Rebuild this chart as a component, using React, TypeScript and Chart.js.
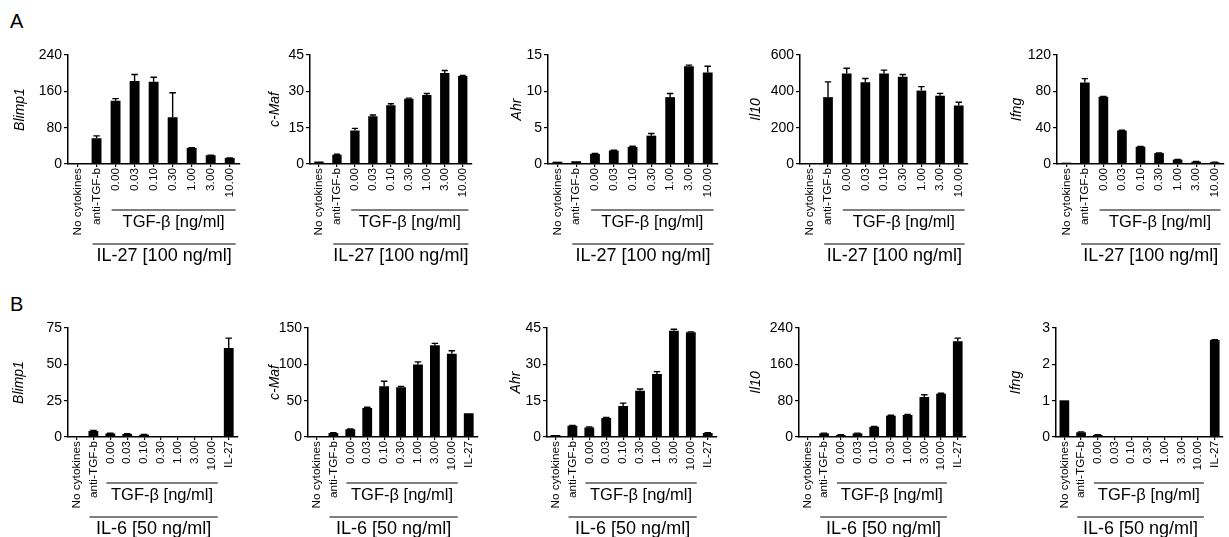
import React, { useEffect, useRef } from "react";
import { Chart, registerables } from "chart.js";

Chart.register(...registerables);
Chart.defaults.font.family = "'Liberation Sans', Arial, Helvetica, sans-serif";
Chart.defaults.color = "#000";

// ---------- categories ----------
const categoriesA = ["No cytokines", "anti-TGF-b", "0.00", "0.03", "0.10", "0.30", "1.00", "3.00", "10.00"];
const categoriesB = ["No cytokines", "anti-TGF-b", "0.00", "0.03", "0.10", "0.30", "1.00", "3.00", "10.00", "IL-27"];

// ---------- row A values (IL-27 + TGF-β) ----------
const blimp1A = [2, 56.5, 139, 183, 181, 103, 35, 19, 13];
const blimp1ASem = [0, 5.5, 5, 14, 10, 54, 1, 0.5, 0.5];
const cMafA = [1.0, 3.8, 13.8, 19.7, 24.3, 26.9, 28.5, 37.6, 36.3];
const cMafASem = [0, 0.2, 0.9, 0.5, 0.6, 0.3, 0.6, 1.0, 0.3];
const ahrA = [0.32, 0.38, 1.4, 1.85, 2.35, 3.9, 9.2, 13.45, 12.6];
const ahrASem = [0, 0, 0.05, 0.05, 0.1, 0.3, 0.5, 0.15, 0.85];
const il10A = [5, 368, 498, 450, 498, 480, 404, 376, 322];
const il10ASem = [0, 84, 29, 21, 19, 13, 22, 13, 18];
const ifngA = [1.5, 89.7, 74, 36.8, 19, 12, 4.8, 2.6, 1.9];
const ifngASem = [0, 4.3, 0.5, 0.3, 0.3, 0.2, 0.3, 0.2, 0.2];

// ---------- row B values (IL-6 + TGF-β) ----------
const blimp1B = [0.7, 4.2, 2.4, 2.1, 1.6, 0.6, 0.5, 0.2, 0.2, 61.2];
const blimp1BSem = [0, 0.3, 0.2, 0.2, 0.1, 0, 0, 0, 0, 6.8];
const cMafB = [1, 5.5, 10.6, 40, 69.7, 68.3, 99.7, 126.4, 114.5, 32.8];
const cMafBSem = [0, 0.3, 0.5, 1, 7, 1.4, 3.7, 2.4, 4.1, 0];
const ahrB = [0.84, 4.6, 3.9, 7.8, 12.8, 19.1, 26, 43.9, 43.2, 1.7];
const ahrBSem = [0, 0.2, 0.2, 0.3, 1.2, 0.7, 1, 0.6, 0.2, 0.1];
const il10B = [1.5, 8, 4.5, 8, 22.4, 47, 48.4, 88, 95.4, 211];
const il10BSem = [0, 0.5, 0.5, 0.5, 1, 1, 1, 5, 1, 6.6];
const ifngB = [1.01, 0.13, 0.056, 0.025, 0.01, 0.015, 0.005, 0.003, 0.003, 2.67];
const ifngBSem = [0, 0.01, 0.005, 0, 0, 0, 0, 0, 0, 0.01];

// ---------- axis ranges ----------
const yMaxA = [240, 45, 15, 600, 120];
const yStepA = [80, 15, 5, 200, 40];
const yMaxB = [75, 150, 45, 240, 3];
const yStepB = [25, 50, 15, 80, 1];
const genes = ["Blimp1", "c-Maf", "Ahr", "Il10", "Ifng"];

// ---------- group labels ----------
const tgfLabel = "TGF-β [ng/ml]";
const groupLabelA = "IL-27 [100 ng/ml]";
const groupLabelB = "IL-6 [50 ng/ml]";

// ---------- layout ----------
const YBOX = 62; // width of y-scale box
const PAD_TOP = 18;
const rowA = { plotTop: 55, zero: 164, xH: 106, barPct: 0.52 };
const rowB = { plotTop: 328, zero: 437, xH: 100, barPct: 0.58 };
const axisXA = [68, 310, 548, 800, 1057];
const rightA = [243, 476, 721, 972, 1228];
const titleDistA = [48, 35, 31, 44, 40];
const axisXB = [68, 308, 547, 799, 1056];
const rightB = [242, 482, 721, 971, 1228];
const titleDistB = [48.5, 33, 31, 43, 39.5];

const valuesA = [blimp1A, cMafA, ahrA, il10A, ifngA];
const semA = [blimp1ASem, cMafASem, ahrASem, il10ASem, ifngASem];
const valuesB = [blimp1B, cMafB, ahrB, il10B, ifngB];
const semB = [blimp1BSem, cMafBSem, ahrBSem, il10BSem, ifngBSem];

type PanelProps = {
  labels: string[];
  values: number[];
  sem: number[];
  title: string;
  yMax: number;
  yStep: number;
  axisX: number;
  right: number;
  titleDist: number;
  row: { plotTop: number; zero: number; xH: number; barPct: number };
  group: string;
};

function Panel(props: PanelProps) {
  const ref = useRef<HTMLCanvasElement>(null);
  const { labels, values, sem, title, yMax, yStep, axisX, right, titleDist, row, group } = props;
  const left = axisX - YBOX;
  const width = YBOX + (right - axisX) + 2;
  const plotH = row.zero - row.plotTop;
  const height = PAD_TOP + plotH + row.xH;
  const top = row.plotTop - PAD_TOP;

  useEffect(() => {
    const canvas = ref.current;
    if (!canvas) return;

    const errorBars = {
      id: "errorBars",
      afterDatasetsDraw(chart: any) {
        const ctx = chart.ctx;
        const meta = chart.getDatasetMeta(0);
        const y = chart.scales.y;
        ctx.save();
        ctx.strokeStyle = "#000";
        ctx.lineWidth = 1.4;
        meta.data.forEach((bar: any, i: number) => {
          const e = sem[i];
          if (!e) return;
          const x = bar.x;
          const y0 = y.getPixelForValue(values[i]);
          const y1 = y.getPixelForValue(values[i] + e);
          const w = bar.width * 0.33;
          ctx.beginPath();
          ctx.moveTo(x, y0);
          ctx.lineTo(x, y1);
          ctx.moveTo(x - w, y1);
          ctx.lineTo(x + w, y1);
          ctx.stroke();
        });
        ctx.restore();
      },
    };

    const groups = {
      id: "groups",
      afterDraw(chart: any) {
        const ctx = chart.ctx;
        const xs = chart.scales.x;
        const meta = chart.getDatasetMeta(0);
        const bw = meta.data[0].width;
        const lastTgf = 8;
        const tgfStart = xs.getPixelForValue(2) - bw / 2 + 1;
        const ilStart = xs.getPixelForValue(1) - bw / 2 + 1;
        const end = xs.getPixelForValue(lastTgf) + bw / 2 + 1;
        const base = xs.top;
        ctx.save();
        ctx.strokeStyle = "#000";
        ctx.lineWidth = 1.2;
        ctx.beginPath();
        ctx.moveTo(tgfStart, base + 46);
        ctx.lineTo(end, base + 46);
        ctx.moveTo(ilStart, base + 80);
        ctx.lineTo(end, base + 80);
        ctx.stroke();
        ctx.fillStyle = "#000";
        ctx.textAlign = "center";
        ctx.textBaseline = "middle";
        ctx.font = "16.5px 'Liberation Sans', Arial, sans-serif";
        ctx.fillText(tgfLabel, (tgfStart + end) / 2, base + 58);
        ctx.font = "18px 'Liberation Sans', Arial, sans-serif";
        ctx.fillText(group, (ilStart + end) / 2, base + 92.5);
        ctx.restore();
      },
    };

    const chart = new Chart(canvas, {
      type: "bar",
      data: {
        labels,
        datasets: [
          {
            data: values,
            backgroundColor: "#000",
            borderWidth: 0,
            barPercentage: row.barPct,
            categoryPercentage: 1,
          },
        ],
      },
      options: {
        animation: false,
        responsive: false,
        events: [],
        layout: { padding: { top: PAD_TOP, left: 0, right: 2, bottom: 0 }, autoPadding: false },
        plugins: { legend: { display: false }, tooltip: { enabled: false } },
        scales: {
          x: {
            type: "category",
            offset: true,
            afterFit: (s: any) => {
              s.height = row.xH;
            },
            grid: {
              display: true,
              drawOnChartArea: false,
              drawTicks: true,
              tickLength: 3,
              color: "#000",
              lineWidth: 1.2,
              offset: false,
            },
            border: { display: true, color: "#000", width: 1.5 },
            ticks: {
              autoSkip: false,
              minRotation: 90,
              maxRotation: 90,
              padding: 1,
              color: "#000",
              font: { size: 11.8 },
            },
          },
          y: {
            min: 0,
            max: yMax,
            afterFit: (s: any) => {
              s.width = YBOX;
            },
            grid: {
              display: true,
              drawOnChartArea: false,
              drawTicks: true,
              tickLength: 4,
              color: "#000",
              lineWidth: 1.2,
            },
            border: { display: true, color: "#000", width: 1.5 },
            ticks: { stepSize: yStep, padding: 2, color: "#000", font: { size: 14 } },
            title: {
              display: true,
              text: title,
              color: "#000",
              font: { size: 14, style: "italic" },
              padding: { top: YBOX - titleDist - 8.4, bottom: 0 },
            },
          },
        },
      } as any,
      plugins: [errorBars, groups],
    });
    return () => chart.destroy();
  }, []);

  return (
    <canvas
      ref={ref}
      width={width}
      height={height}
      style={{ position: "absolute", left, top, width, height }}
    />
  );
}

export default function App() {
  const letterStyle: React.CSSProperties = {
    position: "absolute",
    left: 10,
    fontFamily: "'Liberation Sans', Arial, sans-serif",
    fontSize: 20,
    lineHeight: "20px",
    color: "#000",
  };
  return (
    <div
      style={{
        position: "fixed",
        left: 0,
        top: 0,
        width: 1229,
        height: 537,
        overflow: "hidden",
        background: "#fff",
      }}
    >
      <div style={{ ...letterStyle, top: 11 }}>A</div>
      <div style={{ ...letterStyle, top: 294 }}>B</div>
      {genes.map((g, i) => (
        <Panel
          key={"A" + i}
          labels={categoriesA}
          values={valuesA[i]}
          sem={semA[i]}
          title={g}
          yMax={yMaxA[i]}
          yStep={yStepA[i]}
          axisX={axisXA[i]}
          right={rightA[i]}
          titleDist={titleDistA[i]}
          row={rowA}
          group={groupLabelA}
        />
      ))}
      {genes.map((g, i) => (
        <Panel
          key={"B" + i}
          labels={categoriesB}
          values={valuesB[i]}
          sem={semB[i]}
          title={g}
          yMax={yMaxB[i]}
          yStep={yStepB[i]}
          axisX={axisXB[i]}
          right={rightB[i]}
          titleDist={titleDistB[i]}
          row={rowB}
          group={groupLabelB}
        />
      ))}
    </div>
  );
}
